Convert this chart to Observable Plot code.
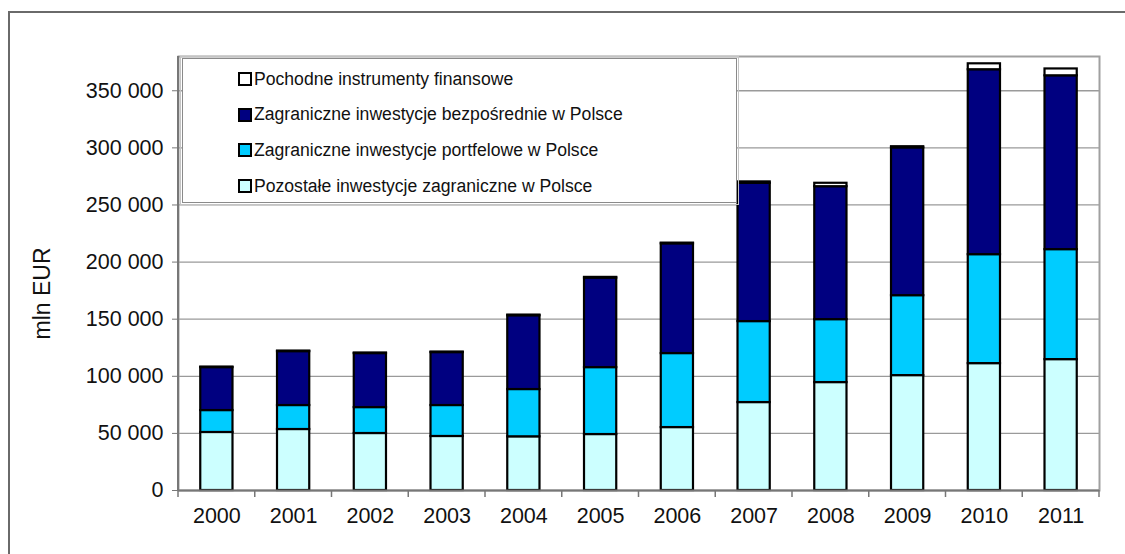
<!DOCTYPE html>
<html>
<head>
<meta charset="utf-8">
<script src="https://cdn.jsdelivr.net/npm/d3@7"></script>
<script src="https://cdn.jsdelivr.net/npm/@observablehq/plot@0.6"></script>
<style>
  html, body { margin: 0; padding: 0; background: #fff; }
  #wrap { position: relative; width: 1125px; height: 554px; overflow: hidden; font-family: "Liberation Sans", Arial, sans-serif; }
  #outer { position: absolute; left: 8px; top: 11px; width: 1140px; height: 600px; border: 2px solid #6a6a6a; box-sizing: border-box; }
  #legend { position: absolute; left: 182px; top: 58px; width: 555px; height: 145px; border: 1px solid #8a8a8a; outline: 1px solid #c4c4c4; outline-offset: 1px; background: #fff; box-sizing: border-box; }
  .item { position: absolute; left: 55px; height: 20px; display: flex; align-items: center; font-size: 17.6px; color: #111; white-space: nowrap; }
  .sw { width: 10px; height: 10px; border: 2px solid #000; margin-right: 2px; }
</style>
</head>
<body>
<div id="wrap">
  <div id="outer"></div>
  <div id="chart"></div>
  <div id="legend"></div>
</div>
<script>
const years = ["2000","2001","2002","2003","2004","2005","2006","2007","2008","2009","2010","2011"];
const pozostale    = [50800, 53400, 49900, 47300, 47000, 49000, 55100, 77000, 94500, 100600, 111100, 114600];
const portfelowe   = [19200, 21000, 22700, 27100, 41400, 58600, 64800, 70900, 55100, 70000, 95400, 96300];
const bezposrednie = [37600, 47200, 47300, 46350, 64600, 78400, 96100, 121100, 116400, 129400, 161900, 152200];
const pochodne     = [500, 500, 500, 500, 600, 600, 600, 1200, 3000, 1000, 5200, 6000];
const seriesNames = [
  "Pozostałe inwestycje zagraniczne w Polsce",
  "Zagraniczne inwestycje portfelowe w Polsce",
  "Zagraniczne inwestycje bezpośrednie w Polsce",
  "Pochodne instrumenty finansowe"
];
const seriesColors = ["#CCFFFF", "#00CCFF", "#000080", "#FFFFFF"];
const yTicks = [0, 50000, 100000, 150000, 200000, 250000, 300000, 350000];
const yLabel = "mln EUR";

const seriesValues = [pozostale, portfelowe, bezposrednie, pochodne];
const data = years.flatMap((year, i) =>
  seriesNames.map((s, k) => ({year, series: s, value: seriesValues[k][i]})));

const fmt = d => d3.format(",")(d).replace(/,/g, " ");

const chart = Plot.plot({
  width: 1125,
  height: 554,
  marginLeft: 178,
  marginRight: 26,
  marginTop: 56,
  marginBottom: 64,
  style: {fontSize: "21.5px", fontFamily: "'Liberation Sans', Arial, sans-serif", color: "#111", background: "transparent"},
  x: {domain: years, paddingInner: 0.58, paddingOuter: 0.29, round: false, axis: null},
  y: {domain: [0, 380000], axis: null},
  color: {domain: seriesNames, range: seriesColors},
  marks: [
    Plot.ruleY(yTicks.slice(1), {stroke: "#9a9a9a", strokeWidth: 1.3}),
    Plot.frame({stroke: "#a0a0a0", strokeWidth: 2}),
    Plot.barY(data, {x: "year", y: "value", fill: "series", order: seriesNames, stroke: "#000", strokeWidth: 2.2}),
    Plot.ruleY([0], {stroke: "#777", strokeWidth: 2}),
    Plot.axisY({ticks: yTicks, tickFormat: fmt, tickSize: 6, tickPadding: 9, stroke: "#777", fill: "#111", label: null}),
    Plot.axisX({tickSize: 0, tickPadding: 17, fill: "#111", label: null}),
    Plot.text([yLabel], {frameAnchor: "left", textAnchor: "middle", rotate: -90, dx: -136, dy: 20, fontSize: 23, fill: "#111"})
  ]
});
document.getElementById("chart").appendChild(chart);

// left axis line and category boundary ticks, positioned from the plot's scales
const xs = chart.scale("x");
const ys = chart.scale("y");
const svg = d3.select(chart);
const y0 = ys.apply(0), yTop = ys.apply(380000);
const step = xs.step, bw = xs.bandwidth;
const bounds = years.map(yr => xs.apply(yr) - (step - bw) / 2);
bounds.push(xs.apply(years[years.length - 1]) + bw + (step - bw) / 2);
svg.append("line").attr("x1", bounds[0]).attr("x2", bounds[0]).attr("y1", yTop).attr("y2", y0)
  .attr("stroke", "#777").attr("stroke-width", 2);
svg.selectAll("line.bt").data(bounds).join("line").attr("class", "bt")
  .attr("x1", d => d).attr("x2", d => d).attr("y1", y0).attr("y2", y0 + 7)
  .attr("stroke", "#777").attr("stroke-width", 1.5);

// legend (top-down order as in the reference)
const legend = document.getElementById("legend");
[3, 2, 1, 0].forEach((k, row) => {
  const item = document.createElement("div");
  item.className = "item";
  item.style.top = (10 + row * 35.7) + "px";
  const sw = document.createElement("div");
  sw.className = "sw";
  sw.style.background = seriesColors[k];
  item.appendChild(sw);
  item.appendChild(document.createTextNode(seriesNames[k]));
  legend.appendChild(item);
});
</script>
</body>
</html>
